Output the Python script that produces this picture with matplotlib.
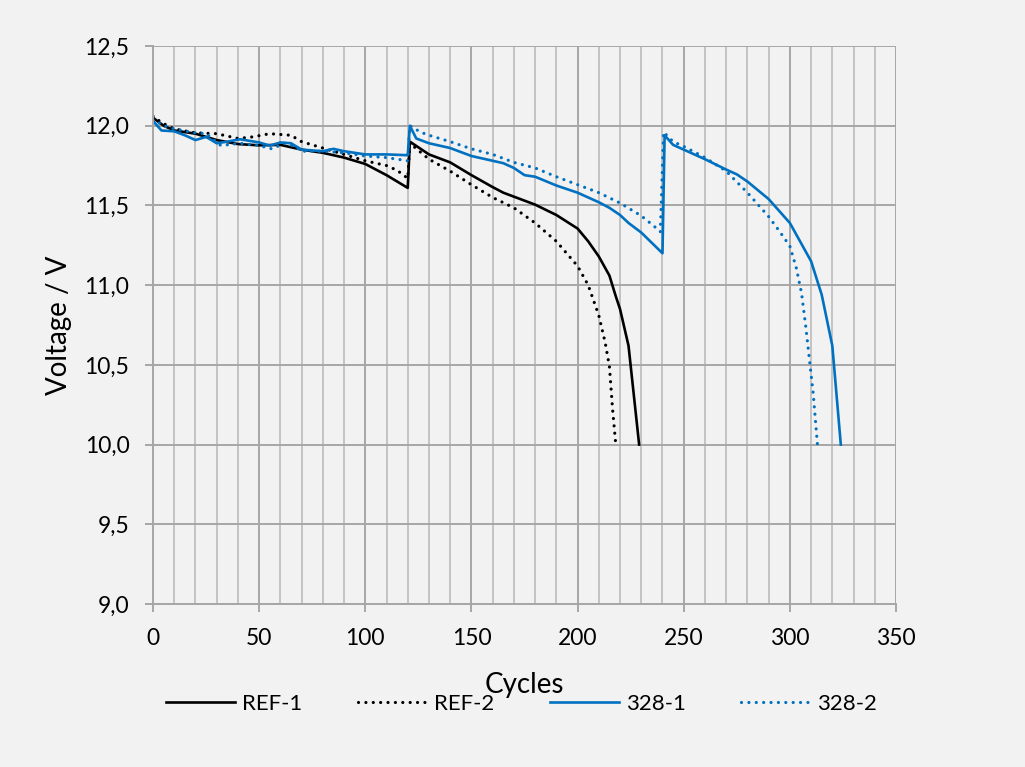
import matplotlib as mpl
import matplotlib.pyplot as plt
from matplotlib.ticker import MultipleLocator, FuncFormatter

mpl.rcParams.update(
    {
        "font.family": ["Lato", "DejaVu Sans"],
        "axes.spines.top": False,
        "axes.spines.right": False,
    }
)

# cycle / voltage readings per cell
ref1_cycles = [0, 5, 10, 20, 30, 40, 50, 60, 70, 80, 90, 100, 110, 120,
               121, 130, 140, 150, 160, 165, 170, 180, 190, 200, 205, 210,
               215, 218, 220, 224, 229]
ref1_volts = [12.05, 12.00, 11.97, 11.95, 11.91, 11.885, 11.877, 11.88, 11.85,
              11.83, 11.80, 11.76, 11.69, 11.61,
              11.90, 11.82, 11.77, 11.69, 11.615, 11.58, 11.555, 11.505, 11.44,
              11.355, 11.275, 11.18, 11.06, 10.93, 10.85, 10.62, 10.0]

ref2_cycles = [0, 4, 10, 20, 30, 40, 47, 55, 60, 65, 70, 80, 90, 100, 110,
               115, 120, 121, 130, 140, 150, 160, 170, 180, 190, 200, 205,
               210, 213, 215, 216.5, 218]
ref2_volts = [12.06, 12.02, 11.98, 11.955, 11.95, 11.92, 11.93, 11.95, 11.945,
              11.94, 11.90, 11.86, 11.82, 11.78, 11.75, 11.72, 11.67,
              11.89, 11.79, 11.715, 11.63, 11.55, 11.485, 11.39, 11.275, 11.12,
              11.0, 10.81, 10.64, 10.49, 10.22, 10.0]

c328_1_cycles = [0, 4, 10, 15, 20, 25, 30, 35, 41, 50, 55, 60, 65, 70, 80, 85,
                 90, 100, 110, 120, 121, 124, 130, 140, 150, 160, 165, 170,
                 175, 180, 190, 200, 210, 215, 220, 224, 230, 240, 241, 245,
                 250, 260, 270, 275, 280, 290, 300, 310, 315, 320, 324]
c328_1_volts = [12.03, 11.97, 11.965, 11.94, 11.91, 11.93, 11.89, 11.90, 11.915,
                11.895, 11.875, 11.895, 11.89, 11.85, 11.84, 11.855, 11.84,
                11.82, 11.82, 11.815, 12.0, 11.92, 11.89, 11.86, 11.81, 11.78,
                11.765, 11.735, 11.69, 11.68, 11.625, 11.58, 11.52, 11.485,
                11.44, 11.39, 11.33, 11.20, 11.94, 11.88, 11.85, 11.79, 11.725,
                11.695, 11.65, 11.54, 11.39, 11.15, 10.94, 10.62, 10.0]

c328_2_cycles = [0, 5, 10, 20, 25, 32, 41, 50, 56, 62, 67, 70, 80, 90, 100,
                 110, 120, 121, 126, 130, 140, 150, 160, 170, 180, 190, 200,
                 210, 220, 230, 236, 239, 240.5, 245, 250, 260, 270, 280, 290,
                 295, 300, 303, 305.5, 307.5, 309, 311, 313]
c328_2_volts = [12.04, 12.0, 11.98, 11.955, 11.95, 11.875, 11.89, 11.875,
                11.855, 11.89, 11.87, 11.84, 11.84, 11.83, 11.81, 11.80, 11.78,
                12.0, 11.96, 11.94, 11.90, 11.855, 11.82, 11.77, 11.735, 11.68,
                11.63, 11.58, 11.515, 11.435, 11.37, 11.335, 11.96, 11.90,
                11.87, 11.80, 11.715, 11.58, 11.43, 11.34, 11.245, 11.11, 10.95,
                10.74, 10.56, 10.32, 10.0]

BG = "#f2f2f2"
BLUE = "#0070c0"
MAJOR_GRID = "#a6a6a6"
MINOR_GRID = "#c3c3c3"

fig = plt.figure(figsize=(10.25, 7.67), dpi=100, facecolor=BG)
ax = fig.add_axes([153 / 1025, 1 - 604 / 767, 743 / 1025, 558 / 767])
ax.set_facecolor(BG)

dots = (0, (0.01, 2.3))
ax.plot(ref1_cycles, ref1_volts, color="black", lw=1.9, label="REF-1")
ax.plot(ref2_cycles, ref2_volts, color="black", lw=2.3, linestyle=dots,
        dash_capstyle="round", label="REF-2")
ax.plot(c328_1_cycles, c328_1_volts, color=BLUE, lw=1.9, label="328-1")
ax.plot(c328_2_cycles, c328_2_volts, color=BLUE, lw=2.3, linestyle=dots,
        dash_capstyle="round", label="328-2")

ax.set_xlim(0, 350)
ax.set_ylim(9.0, 12.5)
ax.xaxis.set_major_locator(MultipleLocator(50))
ax.xaxis.set_minor_locator(MultipleLocator(10))
ax.yaxis.set_major_locator(MultipleLocator(0.5))
ax.yaxis.set_major_formatter(FuncFormatter(lambda v, _: f"{v:.1f}".replace(".", ",")))

ax.grid(True, which="major", color=MAJOR_GRID, lw=1.4)
ax.grid(True, which="minor", axis="x", color=MINOR_GRID, lw=1.4)
ax.set_axisbelow(True)
for side in ("left", "bottom"):
    ax.spines[side].set_color(MAJOR_GRID)
    ax.spines[side].set_linewidth(1.4)
ax.tick_params(which="major", length=6, width=1.4, color=MAJOR_GRID,
               labelsize=16.5, pad=11)
ax.tick_params(which="minor", length=0)

ax.set_ylabel("Voltage / V", fontsize=20)
ax.yaxis.set_label_coords(-0.109, 0.5)
ax.set_xlabel("Cycles", fontsize=20, va="baseline")
ax.xaxis.set_label_coords(0.5, -0.1595)

ax.legend(loc="center left", bbox_to_anchor=(166 / 1025, 1 - 704 / 767),
          bbox_transform=fig.transFigure, ncol=4, frameon=False, fontsize=16,
          handlelength=3.1, handletextpad=0.32, columnspacing=2.5,
          borderpad=0, borderaxespad=0)

fig.savefig("out.png", dpi=100, facecolor=BG)
